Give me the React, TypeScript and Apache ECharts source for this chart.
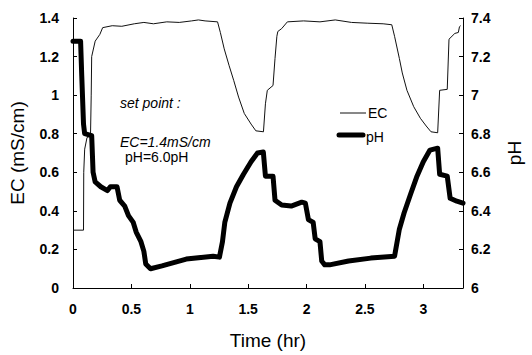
import React, { useEffect, useRef } from "react";
import * as echarts from "echarts";

// Time (hr) and EC (mS/cm) for the thin EC trace
const ecTime = [0, 0.09, 0.092, 0.1, 0.12, 0.15, 0.156, 0.16, 0.19, 0.23, 0.254, 0.336, 0.418, 0.525, 0.607, 0.689, 0.803, 0.91, 1.016, 1.074, 1.131, 1.238, 1.262, 1.295, 1.336, 1.377, 1.418, 1.467, 1.525, 1.566, 1.631, 1.648, 1.664, 1.713, 1.73, 1.746, 1.754, 1.787, 1.836, 1.975, 2.115, 2.246, 2.385, 2.525, 2.656, 2.73, 2.754, 2.795, 2.82, 2.86, 2.918, 2.975, 3.025, 3.066, 3.123, 3.14, 3.205, 3.22, 3.27, 3.3, 3.31, 3.32];
const ecValue = [0.3, 0.3, 0.6, 0.72, 0.78, 0.79, 1.0, 1.2, 1.28, 1.315, 1.35, 1.36, 1.357, 1.37, 1.377, 1.37, 1.38, 1.377, 1.385, 1.39, 1.385, 1.38, 1.325, 1.24, 1.155, 1.075, 0.99, 0.905, 0.85, 0.815, 0.81, 0.955, 1.025, 1.05, 1.19, 1.305, 1.33, 1.345, 1.38, 1.385, 1.38, 1.39, 1.377, 1.373, 1.37, 1.365, 1.305, 1.19, 1.115, 1.025, 0.94, 0.88, 0.84, 0.81, 0.805, 1.025, 1.03, 1.29, 1.32, 1.325, 1.355, 1.36];

// Time (hr) and pH for the thick pH trace
const phTime = [0, 0.065, 0.075, 0.09, 0.1, 0.16, 0.172, 0.19, 0.238, 0.295, 0.32, 0.377, 0.4, 0.443, 0.475, 0.516, 0.541, 0.582, 0.607, 0.623, 0.664, 0.762, 0.97, 1.2, 1.254, 1.28, 1.3, 1.344, 1.4, 1.46, 1.525, 1.58, 1.63, 1.648, 1.713, 1.73, 1.787, 1.869, 1.959, 1.99, 2.016, 2.057, 2.074, 2.115, 2.13, 2.156, 2.197, 2.36, 2.55, 2.754, 2.795, 2.836, 2.893, 2.943, 3.0, 3.057, 3.123, 3.14, 3.205, 3.23, 3.287, 3.34];
const phValue = [7.28, 7.28, 7.1, 6.85, 6.8, 6.79, 6.6, 6.55, 6.525, 6.505, 6.525, 6.525, 6.455, 6.425, 6.375, 6.34, 6.29, 6.24, 6.19, 6.125, 6.1, 6.115, 6.15, 6.165, 6.16, 6.24, 6.34, 6.44, 6.525, 6.59, 6.655, 6.7, 6.705, 6.58, 6.58, 6.455, 6.43, 6.425, 6.445, 6.44, 6.355, 6.34, 6.255, 6.24, 6.14, 6.12, 6.12, 6.14, 6.155, 6.165, 6.305, 6.39, 6.49, 6.575, 6.655, 6.715, 6.725, 6.59, 6.58, 6.465, 6.45, 6.44];

const seriesNames = ["EC", "pH"];
const annotationLines = ["set point :", "EC=1.4mS/cm", "pH=6.0pH"];

const FONT = "'Liberation Sans', Arial, sans-serif";

export default function App() {
  const ref = useRef<HTMLDivElement>(null);
  useEffect(() => {
    if (!ref.current) return;
    const chart = echarts.init(ref.current, null, { renderer: "svg" });
    const ecData = ecTime.map((t, i) => [t, ecValue[i]]);
    const phData = phTime.map((t, i) => [t, phValue[i]]);
    const axisCommon = {
      axisLine: { show: true, lineStyle: { color: "#000", width: 1 } },
      axisTick: { show: true, inside: true, length: 4, lineStyle: { color: "#000" } },
      splitLine: { show: false },
    };
    const tickLabel = { fontSize: 14, color: "#000", fontFamily: FONT, fontWeight: "bold" as const };
    chart.setOption({
      animation: false,
      backgroundColor: "#fff",
      textStyle: { fontFamily: FONT },
      grid: { left: 69, right: 56, top: 18, bottom: 57, containLabel: false },
      xAxis: {
        type: "value",
        min: 0,
        max: 3.34,
        interval: 0.5,
        name: "Time (hr)",
        nameLocation: "middle",
        nameGap: 43,
        nameTextStyle: { fontSize: 19, color: "#000", fontFamily: FONT },
        ...axisCommon,
        axisLabel: { showMaxLabel: false, margin: 14, ...tickLabel },
      },
      yAxis: [
        {
          type: "value",
          min: 0,
          max: 1.4,
          interval: 0.2,
          name: "EC (mS/cm)",
          nameLocation: "middle",
          nameRotate: 90,
          nameGap: 46,
          nameTextStyle: { fontSize: 19, color: "#000", fontFamily: FONT },
          ...axisCommon,
          axisLabel: { margin: 14, ...tickLabel },
        },
        {
          type: "value",
          min: 6,
          max: 7.4,
          interval: 0.2,
          position: "right",
          name: "pH",
          nameLocation: "middle",
          nameRotate: 90,
          nameGap: 42,
          nameTextStyle: { fontSize: 19, color: "#000", fontFamily: FONT, padding: [0, 0, 20, 0] },
          ...axisCommon,
          axisLabel: { margin: 8, ...tickLabel },
        },
      ],
      series: [
        {
          name: seriesNames[0],
          type: "line",
          data: ecData,
          yAxisIndex: 0,
          symbol: "none",
          lineStyle: { color: "#111", width: 1 },
          itemStyle: { color: "#111" },
        },
        {
          name: seriesNames[1],
          type: "line",
          data: phData,
          yAxisIndex: 1,
          symbol: "none",
          lineStyle: { color: "#000", width: 5, join: "round", cap: "round" },
          itemStyle: { color: "#000" },
        },
      ],
      graphic: [
        {
          type: "text",
          left: 120,
          top: 96,
          style: { text: annotationLines[0], fontSize: 14, lineHeight: 14, fontStyle: "italic", fill: "#000", fontFamily: FONT },
        },
        {
          type: "text",
          left: 120,
          top: 135,
          style: { text: annotationLines[1], fontSize: 14, lineHeight: 14, fontStyle: "italic", fill: "#000", fontFamily: FONT },
        },
        {
          type: "text",
          left: 125,
          top: 150,
          style: { text: annotationLines[2], fontSize: 14, lineHeight: 14, fill: "#000", fontFamily: FONT },
        },
        // legend
        {
          type: "line",
          shape: { x1: 340, y1: 113, x2: 366, y2: 113 },
          style: { stroke: "#111", lineWidth: 1 },
        },
        {
          type: "text",
          left: 368,
          top: 106,
          style: { text: seriesNames[0], fontSize: 14, lineHeight: 14, fill: "#000", fontFamily: FONT },
        },
        {
          type: "line",
          shape: { x1: 339, y1: 135, x2: 363, y2: 135 },
          style: { stroke: "#000", lineWidth: 5, lineCap: "round" },
        },
        {
          type: "text",
          left: 366,
          top: 130,
          style: { text: seriesNames[1], fontSize: 14, lineHeight: 14, fill: "#000", fontFamily: FONT },
        },
      ],
    });
    return () => chart.dispose();
  }, []);
  return (
    <div
      ref={ref}
      style={{ position: "fixed", left: 0, top: 0, width: 532, height: 355, background: "#fff" }}
    />
  );
}
